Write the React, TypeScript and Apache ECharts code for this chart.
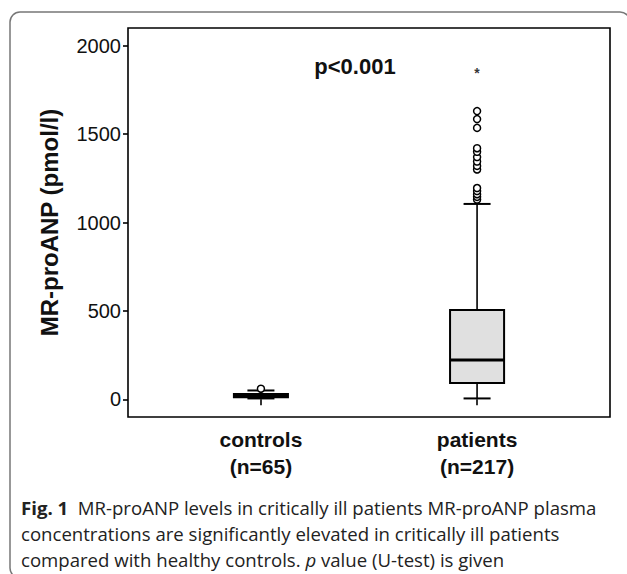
import React, { useEffect, useRef } from "react";
import * as echarts from "echarts";

const categories = ["controls", "patients"];
const groupSizes = ["(n=65)", "(n=217)"];
const whiskerLow = [5, 5];
const quartile1 = [12, 92];
const medians = [20, 222];
const quartile3 = [30, 505];
const whiskerHigh = [50, 1105];
const controlOutliers = [60];
const patientOutliers = [1130, 1145, 1160, 1178, 1195, 1300, 1320, 1345, 1370, 1400, 1420, 1535, 1585, 1630];
const patientExtremes = [1870];
const yTicks = [0, 500, 1000, 1500, 2000];
const pValueText = "p<0.001";
const captionLines = [
  "{b|Fig. 1}  MR-proANP levels in critically ill patients MR-proANP plasma",
  "concentrations are significantly elevated in critically ill patients",
  "compared with healthy controls. {i|p} value (U-test) is given",
];

const AXIS_FONT = "'Liberation Sans', Arial, sans-serif";
const CAPTION_FONT = "'Open Sans', 'Noto Sans', sans-serif";
const CAPTION_SIZE = 18.6;

export default function App() {
  const ref = useRef<HTMLDivElement>(null);
  useEffect(() => {
    if (!ref.current) return;
    const chart = echarts.init(ref.current, undefined, { renderer: "svg" });
    const boxData = categories.map((_, i) => [
      i + 1,
      whiskerLow[i],
      quartile1[i],
      medians[i],
      quartile3[i],
      whiskerHigh[i],
    ]);
    const outlierData = [
      ...controlOutliers.map((v) => [1, v]),
      ...patientOutliers.map((v) => [2, v]),
    ];
    const extremeData = patientExtremes.map((v) => [2, v]);
    const lineStyle = { stroke: "#000", lineWidth: 1.6 };

    chart.setOption({
      animation: false,
      grid: {
        left: 128,
        top: 28,
        width: 482,
        height: 389,
        show: true,
        borderColor: "#000",
        borderWidth: 1.6,
        backgroundColor: "transparent",
      },
      xAxis: {
        type: "value",
        min: 0.385,
        max: 2.615,
        splitLine: { show: false },
        axisLine: { show: false },
        axisTick: {
          show: true,
          customValues: [1, 2],
          length: 6,
          lineStyle: { color: "#000", width: 1.6 },
        },
        axisLabel: {
          customValues: [1, 2],
          formatter: (v: number) => {
            const i = Math.round(v) - 1;
            return categories[i] + "\n" + groupSizes[i];
          },
          fontFamily: AXIS_FONT,
          fontWeight: "bold",
          fontSize: 21,
          lineHeight: 27,
          color: "#111",
          margin: 9,
        },
      },
      yAxis: {
        type: "value",
        min: -100,
        max: 2100,
        name: "MR-proANP (pmol/l)",
        nameLocation: "middle",
        nameGap: 67,
        nameTextStyle: {
          fontFamily: AXIS_FONT,
          fontWeight: "bold",
          fontSize: 24,
          color: "#111",
        },
        splitLine: { show: false },
        axisLine: { show: false },
        axisTick: {
          show: true,
          customValues: yTicks,
          length: 5,
          lineStyle: { color: "#000", width: 1.6 },
        },
        axisLabel: {
          customValues: yTicks,
          formatter: (v: number) => String(v),
          fontFamily: AXIS_FONT,
          fontSize: 20,
          color: "#111",
          margin: 7,
        },
      },
      series: [
        {
          type: "custom",
          data: boxData,
          encode: { x: 0, y: [1, 2, 3, 4, 5] },
          renderItem: (params: any, api: any) => {
            const x = api.value(0);
            const lo = api.coord([x, api.value(1)]);
            const q1 = api.coord([x, api.value(2)]);
            const md = api.coord([x, api.value(3)]);
            const q3 = api.coord([x, api.value(4)]);
            const hi = api.coord([x, api.value(5)]);
            const bw = api.size([1, 0])[0] * 0.25;
            const cw = bw * 0.5;
            const cx = lo[0];
            return {
              type: "group",
              children: [
                { type: "line", shape: { x1: cx, y1: hi[1], x2: cx, y2: q3[1] }, style: lineStyle },
                { type: "line", shape: { x1: cx, y1: q1[1], x2: cx, y2: lo[1] }, style: lineStyle },
                { type: "line", shape: { x1: cx - cw / 2, y1: hi[1], x2: cx + cw / 2, y2: hi[1] }, style: { stroke: "#000", lineWidth: 2 } },
                { type: "line", shape: { x1: cx - cw / 2, y1: lo[1], x2: cx + cw / 2, y2: lo[1] }, style: { stroke: "#000", lineWidth: 2 } },
                {
                  type: "rect",
                  shape: { x: cx - bw / 2, y: q3[1], width: bw, height: q1[1] - q3[1] },
                  style: { fill: "#e0e0e0", stroke: "#000", lineWidth: 2 },
                },
                { type: "line", shape: { x1: cx - bw / 2, y1: md[1], x2: cx + bw / 2, y2: md[1] }, style: { stroke: "#000", lineWidth: 3 } },
              ],
            };
          },
          z: 2,
        },
        {
          type: "scatter",
          data: outlierData,
          symbol: "circle",
          symbolSize: 7,
          itemStyle: { color: "#fff", borderColor: "#000", borderWidth: 1.5, opacity: 1 },
          z: 3,
        },
        {
          type: "scatter",
          data: extremeData,
          symbolSize: 1,
          itemStyle: { color: "transparent" },
          label: {
            show: true,
            position: "inside",
            formatter: "*",
            fontFamily: AXIS_FONT,
            fontWeight: "bold",
            fontSize: 14,
            color: "#000",
            offset: [0, 4],
          },
          z: 3,
        },
      ],
      graphic: [
        {
          type: "rect",
          shape: { x: 10, y: 12, width: 620, height: 566, r: 10 },
          style: { fill: "none", stroke: "#777", lineWidth: 1.5 },
          silent: true,
        },
        {
          type: "text",
          x: 355,
          y: 66,
          style: {
            text: pValueText,
            fontFamily: AXIS_FONT,
            fontWeight: "bold",
            fontSize: 22,
            fill: "#111",
            align: "center",
            verticalAlign: "middle",
          },
        },
        ...captionLines.map((t, i) => ({
          type: "text",
          x: 21,
          y: 507 + i * 26,
          style: {
            text: t,
            fontFamily: CAPTION_FONT,
            fontSize: CAPTION_SIZE,
            fill: "#222",
            align: "left",
            verticalAlign: "middle",
            rich: {
              b: { fontFamily: CAPTION_FONT, fontSize: CAPTION_SIZE, fontWeight: "bold", fill: "#222" },
              i: { fontFamily: CAPTION_FONT, fontSize: CAPTION_SIZE, fontStyle: "italic", fill: "#222" },
            },
          },
        })),
      ],
    });
    return () => chart.dispose();
  }, []);
  return (
    <div
      ref={ref}
      style={{ position: "fixed", left: 0, top: 0, width: 627, height: 574, background: "#fff" }}
    />
  );
}
